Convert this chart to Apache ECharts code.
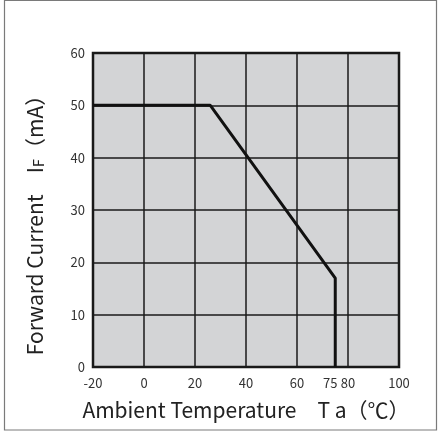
<!DOCTYPE html>
<html><head><meta charset="utf-8">
<script src="https://cdn.jsdelivr.net/npm/echarts@6/dist/echarts.min.js"></script>
<style>html,body{margin:0;padding:0;background:#fff}#c{width:438px;height:432px}</style>
</head><body><div id="c"></div>
<script>
const temps = [-20, 26, 75, 75];
const currents = [50, 50, 17, 0];
const xTickLabels = [-20, 0, 20, 40, 60, 75, 80, 100];
const yTicks = [0, 10, 20, 30, 40, 50, 60];
const xTitle = 'Ambient Temperature　T a（℃）';
const yTitle = ['Forward Current　I', 'F', '（mA）'];

const chart = echarts.init(document.getElementById('c'), null, {renderer: 'canvas'});
const font = '"Noto Sans CJK JP", "Noto Sans", sans-serif';
chart.setOption({
  backgroundColor: '#fff',
  animation: false,
  graphic: [{
    type: 'rect', shape: {x: 4.5, y: 0.5, width: 432, height: 429.5},
    style: {fill: 'none', stroke: '#7a7a7a', lineWidth: 1.2}, silent: true
  }],
  grid: {left: 93, right: 39, top: 53, bottom: 65, show: true, backgroundColor: '#d3d4d6', borderColor: '#1a1a1a', borderWidth: 2.5},
  xAxis: {
    type: 'value', min: -20, max: 100, interval: 20,
    axisLine: {show: false}, axisTick: {show: false},
    splitLine: {show: true, lineStyle: {color: '#1a1a1a', width: 1.5}},
    axisLabel: {
      customValues: xTickLabels, color: '#333', fontSize: 13, fontFamily: font, margin: 10,
      formatter: v => v === 75 ? '{l|75}' : String(v),
      rich: {l: {color: '#333', fontSize: 13, fontFamily: font, padding: [0, 10, 0, 0]}}
    },
    name: xTitle, nameLocation: 'middle', nameGap: 33,
    nameTextStyle: {color: '#222', fontSize: 21, fontFamily: font}
  },
  yAxis: {
    type: 'value', min: 0, max: 60, interval: 10,
    axisLine: {show: false}, axisTick: {show: false},
    splitLine: {show: true, lineStyle: {color: '#1a1a1a', width: 1.5}},
    axisLabel: {color: '#333', fontSize: 13, fontFamily: font, margin: 8},
    name: '{a|' + yTitle[0] + '}{b|' + yTitle[1] + '}{a|' + yTitle[2] + '}',
    nameLocation: 'middle', nameGap: 47,
    nameTextStyle: {
      color: '#222', fontFamily: font, padding: [0, 20, 0, 0],
      rich: {
        a: {fontSize: 21, fontFamily: font, color: '#222'},
        b: {fontSize: 15, fontFamily: font, color: '#222', verticalAlign: 'bottom'}
      }
    }
  },
  series: [{
    type: 'line', data: temps.map((t, i) => [t, currents[i]]),
    showSymbol: false, lineStyle: {color: '#111', width: 3}, z: 5
  }]
});
</script></body></html>
